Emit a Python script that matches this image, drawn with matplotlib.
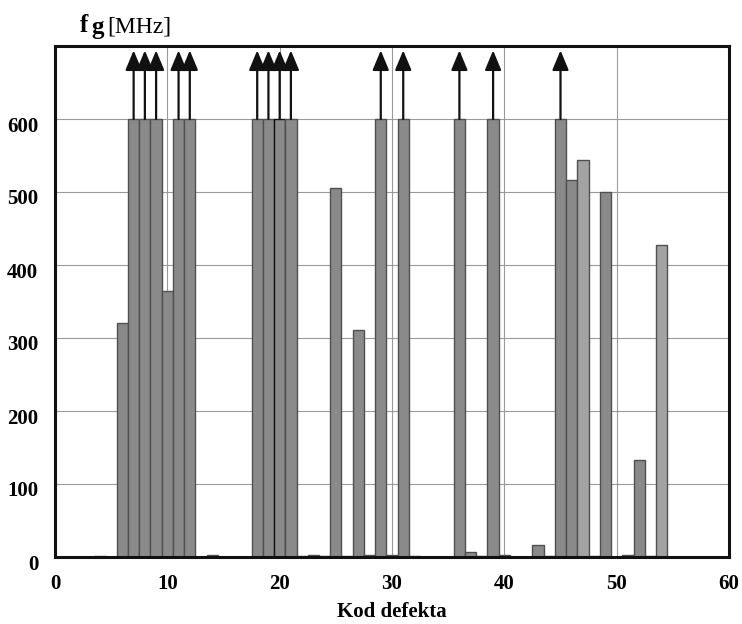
import matplotlib
matplotlib.use("Agg")
import matplotlib.pyplot as plt
from matplotlib.patches import ArrowStyle
from matplotlib.transforms import ScaledTranslation

# fg [MHz] per defect code (600 = clipped, shown with an arrow)
codes = list(range(1, 55))
fg_mhz = [0, 0, 0, 2, 0, 320, 600, 600, 600, 365,
          600, 600, 0, 3, 0, 0, 0, 600, 600, 600,
          600, 1, 3, 1, 506, 1, 311, 3, 600, 3,
          600, 2, 0, 0, 0, 600, 7, 2, 600, 3,
          0, 0, 17, 2, 600, 516, 544, 2, 500, 0,
          3, 133, 1, 428]
light_codes = [4, 14, 23, 47, 54]
clip_value = 600

x_ticks = [0, 10, 20, 30, 40, 50, 60]
y_ticks = [0, 100, 200, 300, 400, 500, 600]

serif = ["Liberation Serif", "DejaVu Serif"]
plt.rcParams["font.family"] = serif

fig = plt.figure(figsize=(7.42, 6.24), dpi=100)
ax = fig.add_axes([55 / 742, 1 - 557 / 624, 674 / 742, 511 / 624])

colors = ["#a3a3a3" if c in light_codes else "#8a8a8a" for c in codes]
edges = ["#111111" if c == 20 else "#505050" for c in codes]
ax.bar(codes, fg_mhz, width=1.0, color=colors, edgecolor=edges,
       linewidth=1.0, zorder=2)

# arrows on the clipped bars
style = ArrowStyle("-|>", head_length=1.2, head_width=0.5)
for c, v in zip(codes, fg_mhz):
    if v >= clip_value:
        ax.annotate("", xy=(c, 694), xytext=(c, v),
                    arrowprops=dict(arrowstyle=style, mutation_scale=10,
                                    color="#111111", lw=1.6,
                                    shrinkA=0, shrinkB=0),
                    zorder=3)

ax.set_xlim(0, 60)
ax.set_ylim(0, 700)
ax.set_xticks(x_ticks)
ax.set_yticks(y_ticks)
ax.tick_params(length=0, labelsize=15, pad=12)
ax.tick_params(axis="y", pad=12)
for lab in ax.get_xticklabels() + ax.get_yticklabels():
    lab.set_fontweight("bold")
for lab in ax.get_yticklabels():
    lab.set_transform(lab.get_transform() +
                      ScaledTranslation(0, -5 / 100, fig.dpi_scale_trans))

ax.grid(True, color="#9a9a9a", linewidth=0.8, zorder=0)
ax.set_axisbelow(True)
for sp in ax.spines.values():
    sp.set_linewidth(2.2)
    sp.set_color("#111111")

ax.set_xlabel("Kod defekta", fontsize=15, fontweight="bold", labelpad=6)

fig.text(80 / 742, 1 - 32 / 624, "f", fontsize=18, fontweight="bold",
         va="baseline")
fig.text(91 / 742, 1 - 34 / 624, "g", fontsize=18, fontweight="bold",
         va="baseline")
fig.text(107 / 742, 1 - 32 / 624, "[MHz]", fontsize=17, va="baseline")

fig.savefig("out.png", dpi=100)
